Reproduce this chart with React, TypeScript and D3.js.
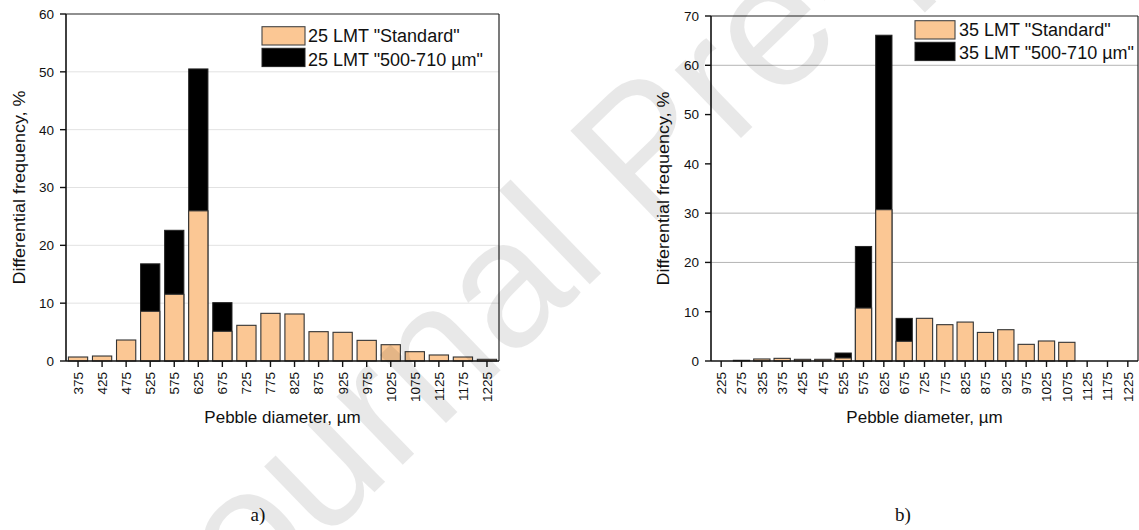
import React from "react";
import * as d3 from "d3";

// Pebble size classes (µm) and differential frequencies (%)
const catsA = ["375", "425", "475", "525", "575", "625", "675", "725", "775", "825", "875", "925", "975", "1025", "1075", "1125", "1175", "1225"];
const standardA = [0.69, 0.86, 3.63, 8.59, 11.53, 25.96, 5.13, 6.17, 8.24, 8.13, 5.07, 4.96, 3.57, 2.82, 1.61, 1.04, 0.69, 0.29];
const narrowA = [0, 0, 0, 16.8, 22.6, 50.5, 10.09, 0, 0, 0, 0, 0, 0, 0, 0, 0, 0, 0];

const catsB = ["225", "275", "325", "375", "425", "475", "525", "575", "625", "675", "725", "775", "825", "875", "925", "975", "1025", "1075", "1125", "1175", "1225"];
const standardB = [0, 0.14, 0.41, 0.54, 0.34, 0.34, 0.61, 10.74, 30.7, 3.99, 8.66, 7.37, 7.9, 5.8, 6.35, 3.38, 4.06, 3.79, 0, 0, 0];
const narrowB = [0, 0, 0, 0, 0, 0, 1.62, 23.24, 66.1, 8.65, 0, 0, 0, 0, 0, 0, 0, 0, 0, 0, 0];

const yTicksA = [0, 10, 20, 30, 40, 50, 60];
const yTicksB = [0, 10, 20, 30, 40, 50, 60, 70];
const gridA = [10, 20, 30, 40, 50];
const gridB = [20, 30, 60];

const legendA = ['25 LMT "Standard"', '25 LMT "500-710 µm"'];
const legendB = ['35 LMT "Standard"', '35 LMT "500-710 µm"'];

const PEACH = "#fbc794";
const SANS = "'Liberation Sans', Arial, Helvetica, sans-serif";

type Box = { left: number; right: number; top: number; bottom: number };

type ChartProps = {
  box: Box;
  cats: string[];
  standard: number[];
  narrow: number[];
  yTicks: number[];
  grid: number[];
  gridColor: string;
  legend: string[];
  legendBox: { x: number; y: number; w: number; h: number; gap: number; tx: number; b1: number; b2: number };
  yTitleX: number;
  panel: string;
  panelX: number;
};

function Chart(p: ChartProps) {
  const { box } = p;
  const x = d3.scaleBand<string>().domain(p.cats).range([box.left, box.right]).paddingInner(0.2).paddingOuter(0.1);
  const y = d3.scaleLinear().domain([0, p.yTicks[p.yTicks.length - 1]]).range([box.bottom, box.top]);
  const bw = x.bandwidth();
  const cx = (c: string) => (x(c) as number) + bw / 2;
  const midX = (box.left + box.right) / 2;
  const midY = (box.top + box.bottom) / 2;

  return (
    <g>
      {p.grid.map((v) => (
        <line key={"g" + v} x1={box.left} x2={box.right} y1={y(v)} y2={y(v)} stroke={p.gridColor} strokeWidth={1} />
      ))}

      {/* wider-sieve series sits behind the standard one */}
      {p.narrow.map((v, i) =>
        v > 0 ? (
          <rect key={"n" + i} x={x(p.cats[i])} y={y(v)} width={bw} height={y(0) - y(v)} fill="#000" stroke="#222" strokeWidth={1} />
        ) : null
      )}
      {p.standard.map((v, i) =>
        v > 0 ? (
          <rect key={"s" + i} x={x(p.cats[i])} y={y(v)} width={bw} height={y(0) - y(v)} fill={PEACH} stroke="#333" strokeWidth={1.1} />
        ) : null
      )}

      {/* frame */}
      <line x1={box.left} x2={box.right} y1={box.top} y2={box.top} stroke="#222" strokeWidth={1.2} />
      <line x1={box.right} x2={box.right} y1={box.top} y2={box.bottom} stroke="#222" strokeWidth={1.2} />
      <line x1={box.left} x2={box.left} y1={box.top} y2={box.bottom} stroke="#111" strokeWidth={1.6} />
      <line x1={box.left} x2={box.right} y1={box.bottom} y2={box.bottom} stroke="#111" strokeWidth={1.6} />

      {/* y axis */}
      {p.yTicks.map((v) => (
        <g key={"y" + v}>
          <line x1={box.left - 6} x2={box.left} y1={y(v)} y2={y(v)} stroke="#111" strokeWidth={1.4} />
          <text x={box.left - 12} y={y(v)} dy="0.36em" textAnchor="end" fontSize={13.5} fontFamily={SANS} fill="#111">
            {v}
          </text>
        </g>
      ))}

      {/* x axis */}
      {p.cats.map((c) => (
        <g key={"x" + c}>
          <line x1={cx(c)} x2={cx(c)} y1={box.bottom} y2={box.bottom + 6} stroke="#111" strokeWidth={1.4} />
          <text
            transform={`translate(${cx(c)},${box.bottom + 11}) rotate(-90)`}
            dy="0.36em"
            textAnchor="end"
            fontSize={13.5}
            fontFamily={SANS}
            fill="#111"
          >
            {c}
          </text>
        </g>
      ))}

      <text
        transform={`translate(${p.yTitleX},${midY}) rotate(-90)`}
        textAnchor="middle"
        fontSize={17}
        fontFamily={SANS}
        fill="#111"
        textLength={194}
        lengthAdjust="spacingAndGlyphs"
      >
        Differential frequency, %
      </text>
      <text x={midX} y={423} textAnchor="middle" fontSize={17} fontFamily={SANS} fill="#111">
        Pebble diameter, µm
      </text>

      {/* legend */}
      <rect x={p.legendBox.x} y={p.legendBox.y} width={p.legendBox.w} height={p.legendBox.h} fill={PEACH} stroke="#444" strokeWidth={1.1} />
      <rect x={p.legendBox.x} y={p.legendBox.y + p.legendBox.gap} width={p.legendBox.w} height={p.legendBox.h} fill="#000" stroke="#222" strokeWidth={1} />
      <text x={p.legendBox.tx} y={p.legendBox.b1} fontSize={18} fontFamily={SANS} fill="#111">
        {p.legend[0]}
      </text>
      <text x={p.legendBox.tx} y={p.legendBox.b2} fontSize={18} fontFamily={SANS} fill="#111">
        {p.legend[1]}
      </text>

      <text x={p.panelX} y={521} textAnchor="middle" fontSize={19} fontFamily="'Liberation Serif', 'Times New Roman', serif" fill="#111">
        {p.panel}
      </text>
    </g>
  );
}

export default function App() {
  return (
    <svg width={1139} height={530} style={{ position: "absolute", left: 0, top: 0, background: "#fff" }}>
      <rect width={1139} height={530} fill="#fff" />
      <Chart
        box={{ left: 66, right: 499, top: 14, bottom: 361 }}
        cats={catsA}
        standard={standardA}
        narrow={narrowA}
        yTicks={yTicksA}
        grid={gridA}
        gridColor="#e2e2e2"
        legend={legendA}
        legendBox={{ x: 262, y: 26.7, w: 43, h: 18.3, gap: 21.6, tx: 308, b1: 41.7, b2: 65.5 }}
        yTitleX={24.5}
        panel="a)"
        panelX={258}
      />
      <Chart
        box={{ left: 711, right: 1138, top: 16, bottom: 361 }}
        cats={catsB}
        standard={standardB}
        narrow={narrowB}
        yTicks={yTicksB}
        grid={gridB}
        gridColor="#b4b4b4"
        legend={legendB}
        legendBox={{ x: 915, y: 20.7, w: 40, h: 18.3, gap: 21.6, tx: 959, b1: 35.7, b2: 59.3 }}
        yTitleX={668.5}
        panel="b)"
        panelX={903}
      />
      {/* diagonal page watermark */}
      <text
        transform="translate(185,675) rotate(-44)"
        fontSize={180}
        fontFamily={SANS}
        fill="#000"
        opacity={0.085}
      >
        Journal Pre-proof
      </text>
    </svg>
  );
}
